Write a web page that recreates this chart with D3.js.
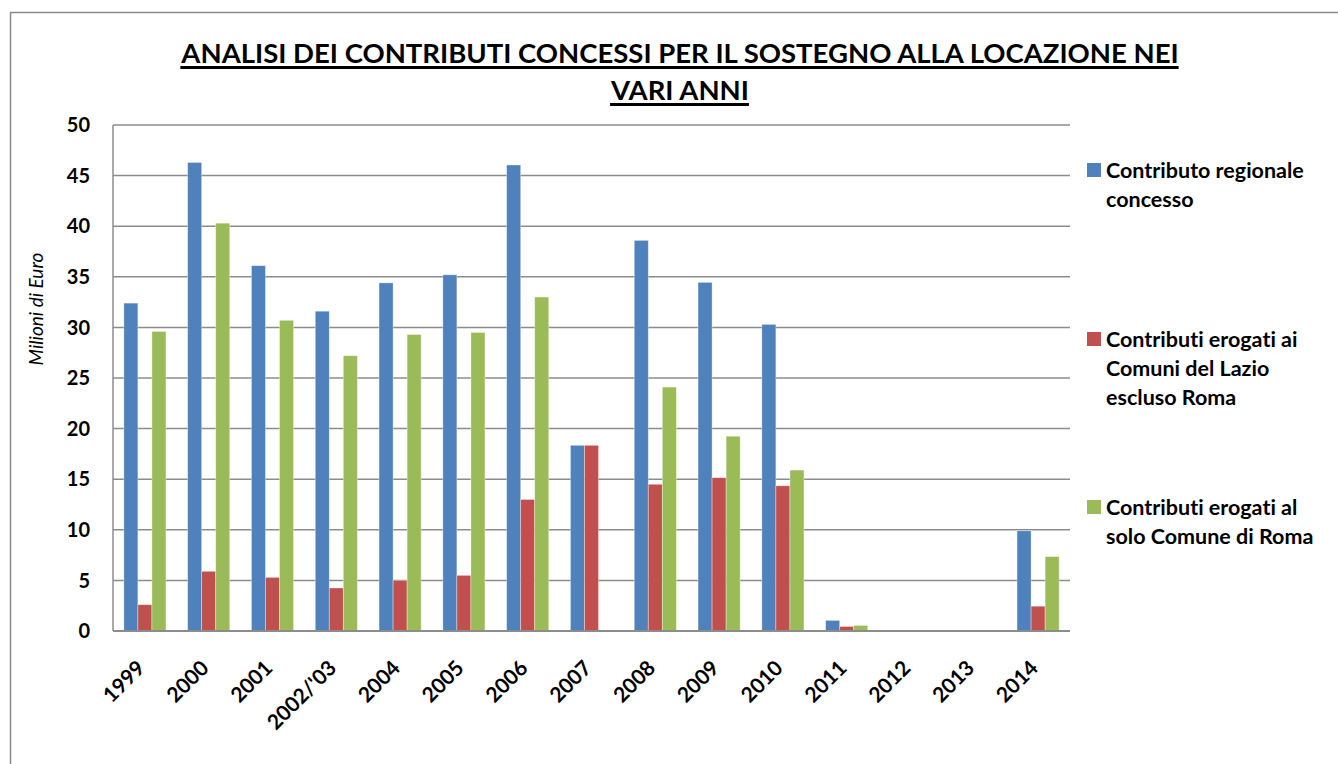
<!DOCTYPE html>
<html>
<head>
<meta charset="utf-8">
<title>Analisi dei contributi concessi</title>
<script src="https://d3js.org/d3.v7.min.js"></script>
<style>
  body { margin: 0; background: #fff; }
  svg { display: block; font-family: Lato, "Open Sans", sans-serif; font-variant-ligatures: none; }
</style>
</head>
<body>
<div id="chart"></div>
<script>
// data (milioni di euro)
const categories = ["1999", "2000", "2001", "2002/'03", "2004", "2005", "2006", "2007", "2008", "2009", "2010", "2011", "2012", "2013", "2014"];
const regionale = [32.4, 46.3, 36.1, 31.6, 34.4, 35.2, 46.05, 18.35, 38.6, 34.45, 30.3, 1.05, 0, 0, 9.9];
const comuniLazio = [2.6, 5.9, 5.3, 4.25, 5.0, 5.5, 13.0, 18.35, 14.5, 15.15, 14.35, 0.45, 0, 0, 2.45];
const comuneRoma = [29.6, 40.3, 30.7, 27.2, 29.3, 29.5, 33.0, 0, 24.1, 19.25, 15.9, 0.55, 0, 0, 7.35];
const seriesNames = ["Contributo regionale concesso", "Contributi erogati ai Comuni del Lazio escluso Roma", "Contributi erogati al solo Comune di Roma"];
const legendLines = [["Contributo regionale", "concesso"], ["Contributi erogati ai", "Comuni del Lazio", "escluso Roma"], ["Contributi erogati al", "solo Comune di Roma"]];
const yTicks = [0, 5, 10, 15, 20, 25, 30, 35, 40, 45, 50];
const titleLines = ["ANALISI DEI CONTRIBUTI CONCESSI PER IL SOSTEGNO ALLA LOCAZIONE NEI", "VARI ANNI"];

const W = 1338, H = 764;
const plot = { left: 113, right: 1070, top: 125, bottom: 631 };
const colors = ["#4F81BD", "#C0504D", "#9BBB59"];
const seriesData = [regionale, comuniLazio, comuneRoma];

const svg = d3.select("#chart").append("svg")
  .attr("width", W)
  .attr("height", H);

// outer frame
svg.append("rect")
  .attr("x", 10.5).attr("y", 12.5)
  .attr("width", 1340).attr("height", 780)
  .attr("fill", "none")
  .attr("stroke", "#8a8a8a")
  .attr("stroke-width", 1.5);

const x = d3.scaleBand()
  .domain(categories)
  .range([plot.left, plot.right])
  .paddingInner(0.34)
  .paddingOuter(0.17);

const xSub = d3.scaleBand()
  .domain(d3.range(3))
  .range([0, x.bandwidth()]);

const y = d3.scaleLinear()
  .domain([0, 50])
  .range([plot.bottom, plot.top]);

// gridlines
svg.append("g")
  .selectAll("line")
  .data(yTicks)
  .join("line")
  .attr("x1", plot.left).attr("x2", plot.right)
  .attr("y1", d => y(d)).attr("y2", d => y(d))
  .attr("stroke", "#8c8c8c")
  .attr("stroke-width", 1.5);

// y axis line
svg.append("line")
  .attr("x1", plot.left).attr("x2", plot.left)
  .attr("y1", plot.top).attr("y2", plot.bottom)
  .attr("stroke", "#8c8c8c")
  .attr("stroke-width", 1.5);

// bars
const groups = svg.append("g")
  .selectAll("g")
  .data(categories)
  .join("g")
  .attr("transform", d => `translate(${x(d)},0)`);

groups.selectAll("rect")
  .data((d, i) => seriesData.map((s, k) => ({ k: k, v: s[i] })))
  .join("rect")
  .attr("x", d => xSub(d.k))
  .attr("width", xSub.bandwidth())
  .attr("y", d => y(d.v))
  .attr("height", d => y(0) - y(d.v))
  .attr("fill", d => colors[d.k])
  .attr("stroke", "rgba(255,255,255,0.45)")
  .attr("stroke-width", 0.8);

// x axis line
svg.append("line")
  .attr("x1", plot.left).attr("x2", plot.right)
  .attr("y1", plot.bottom).attr("y2", plot.bottom)
  .attr("stroke", "#8c8c8c")
  .attr("stroke-width", 2);

// y tick labels
svg.append("g")
  .selectAll("text")
  .data(yTicks)
  .join("text")
  .attr("x", 90)
  .attr("y", d => y(d))
  .attr("dy", "0.36em")
  .attr("text-anchor", "end")
  .style("font-size", "20px")
  .style("font-weight", "bold")
  .text(d => d);

// x tick labels, rotated
svg.append("g")
  .selectAll("text")
  .data(categories)
  .join("text")
  .attr("transform", d => `translate(${x(d) + x.bandwidth() / 2 - 4},664) rotate(-45)`)
  .attr("dy", "0.36em")
  .attr("text-anchor", "end")
  .style("font-size", "21px")
  .style("font-weight", "bold")
  .text(d => d);

// y axis title
svg.append("text")
  .attr("transform", "translate(36,309) rotate(-90)")
  .attr("dy", "0.35em")
  .attr("text-anchor", "middle")
  .style("font-size", "19px")
  .style("font-style", "italic")
  .text("Milioni di Euro");

// title with underline
const titleG = svg.append("g");
const titleBase = [63, 100];
titleLines.forEach((t, i) => {
  const tx = titleG.append("text")
    .attr("x", 680)
    .attr("y", titleBase[i])
    .attr("text-anchor", "middle")
    .style("font-size", "27.5px")
    .style("font-weight", "bold")
    .text(t);
  const bb = tx.node().getBBox();
  titleG.append("line")
    .attr("x1", bb.x).attr("x2", bb.x + bb.width)
    .attr("y1", titleBase[i] + 4.5).attr("y2", titleBase[i] + 4.5)
    .attr("stroke", "#000")
    .attr("stroke-width", 3);
});

// legend
const legendTop = [170, 339, 507];
const legend = svg.append("g")
  .selectAll("g")
  .data(seriesNames)
  .join("g")
  .attr("transform", (d, i) => `translate(1087,${legendTop[i]})`);

legend.append("rect")
  .attr("x", 0).attr("y", -7)
  .attr("width", 14).attr("height", 14)
  .attr("fill", (d, i) => colors[i]);

legend.each(function (d, i) {
  d3.select(this).selectAll("text")
    .data(legendLines[i])
    .join("text")
    .attr("x", 19)
    .attr("y", (l, j) => j * 29)
    .attr("dy", "0.36em")
    .style("font-size", "21.5px")
    .style("font-weight", "bold")
    .text(l => l);
});
</script>
</body>
</html>
